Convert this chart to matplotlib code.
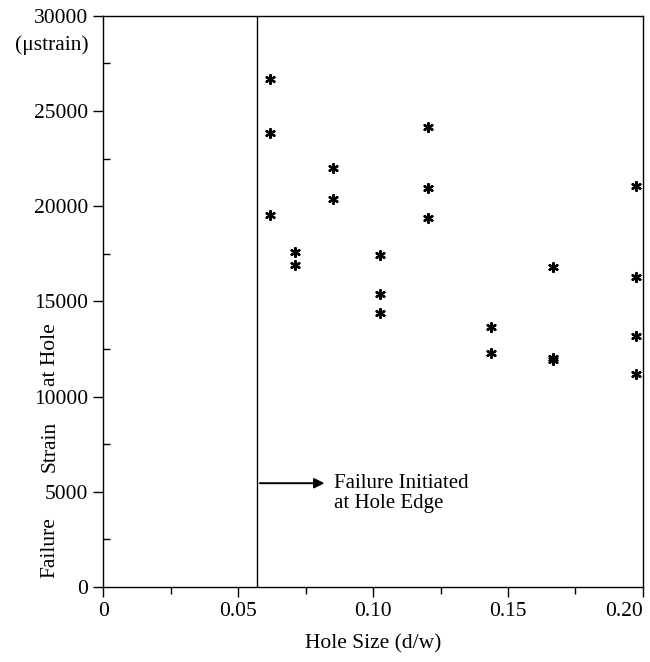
import matplotlib.pyplot as plt
from matplotlib.ticker import MultipleLocator, FixedFormatter, FixedLocator

plt.rcParams['font.family'] = ['Liberation Serif', 'DejaVu Serif']

# hole size (d/w) and failure strain at hole (microstrain)
hole_size = [0.0616, 0.0616, 0.0616,
             0.0712, 0.0712,
             0.0853, 0.0853,
             0.1027, 0.1027, 0.1027,
             0.1204, 0.1204, 0.1204,
             0.1436, 0.1436,
             0.1667, 0.1667, 0.1667,
             0.1975, 0.1975, 0.1975, 0.1975]
strain = [26680, 23840, 19520,
          17580, 16890,
          21990, 20360,
          17430, 15400, 14390,
          24140, 20940, 19380,
          13650, 12290,
          16820, 12040, 11920,
          21040, 16260, 13200, 11170]

x_ticks = [0, 0.05, 0.10, 0.15, 0.20]
x_ticklabels = ['0', '0.05', '0.10', '0.15', '0.20']
y_ticks = [0, 5000, 10000, 15000, 20000, 25000, 30000]
onset = 0.057  # failure initiated at hole edge

fs = 15.5
fig = plt.figure(figsize=(6.5, 6.62), dpi=100)
ax = fig.add_axes([0.159, 0.1133, 0.83, 0.863])

ax.scatter(hole_size, strain, marker=(6, 2, 0), s=40, color='k', linewidths=1.7, zorder=3)

ax.axvline(onset, color='k', lw=1.0)
ax.annotate('', xy=(0.083, 5450), xytext=(onset, 5450),
            arrowprops=dict(arrowstyle='-|>', color='k', lw=1.4, mutation_scale=15))
ax.text(0.0855, 4900, 'Failure Initiated\nat Hole Edge', fontsize=fs - 0.5,
        va='center', ha='left', linespacing=1.1)

ax.set_xlim(0, 0.20)
ax.set_ylim(0, 30000)
ax.xaxis.set_major_locator(FixedLocator(x_ticks))
ax.xaxis.set_major_formatter(FixedFormatter(x_ticklabels))
ax.xaxis.set_minor_locator(MultipleLocator(0.025))
ax.yaxis.set_major_locator(FixedLocator(y_ticks))
ax.yaxis.set_minor_locator(MultipleLocator(2500))
ax.tick_params(which='major', direction='out', length=7, width=1, labelsize=fs, pad=4)
ax.tick_params(axis='x', which='minor', direction='out', length=5, width=1)
ax.tick_params(axis='y', which='minor', direction='in', length=5, width=1)
ax.get_xticklabels()[-1].set_horizontalalignment('right')
for s in ax.spines.values():
    s.set_linewidth(1.0)

ax.set_xlabel('Hole Size (d/w)', fontsize=fs, labelpad=9)

# y label in three spaced pieces, as in the original
fig.text(0.077, 1 - 548 / 662, 'Failure', rotation=90, fontsize=fs, ha='center', va='center')
fig.text(0.077, 1 - 446 / 662, 'Strain', rotation=90, fontsize=fs, ha='center', va='center')
fig.text(0.077, 1 - 355 / 662, 'at Hole', rotation=90, fontsize=fs, ha='center', va='center')
fig.text(0.08, 1 - 45 / 662, '(\u03bcstrain)', fontsize=fs, ha='center', va='center')

fig.savefig('out.png', dpi=100)
